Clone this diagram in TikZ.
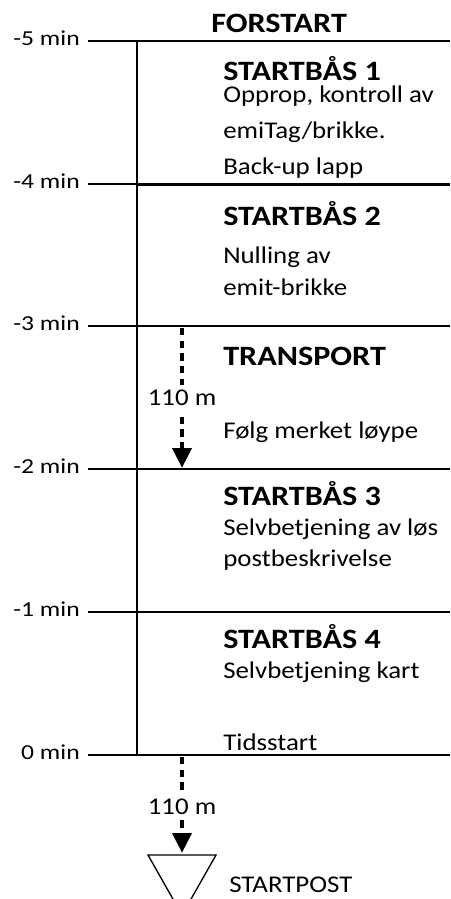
\documentclass[tikz,border=0pt]{standalone}
\usepackage{fontspec}
\setmainfont{Carlito}
\newfontfamily\bodyfont[FakeStretch=1.12]{Carlito}
\newfontfamily\titlefont[FakeStretch=1.15]{Carlito}
\newfontfamily\minfont[FakeStretch=1.2]{Carlito}
\usetikzlibrary{arrows.meta}

\begin{document}
\begin{tikzpicture}[x=0.75pt, y=-0.75pt,
  title/.style = {anchor=base west, inner sep=0pt, font=\titlefont\fontsize{21}{25}\selectfont\bfseries},
  body/.style = {anchor=base west, inner sep=0pt, font=\bodyfont\fontsize{18}{22}\selectfont},
  minlabel/.style = {anchor=base east, inner sep=0pt, font=\minfont\fontsize{16}{19}\selectfont},
  tline/.style = {line width=1.5pt},
  tick/.style = {line width=1pt},
  walk/.style = {line width=3.5pt, dash pattern=on 5.5pt off 4pt, -{Triangle[width=14pt,length=15pt]}},
  dist/.style = {fill=white, inner xsep=1.5pt, inner ysep=4pt, font=\bodyfont\fontsize{18}{22}\selectfont}]

\clip (0,0) rectangle (450,899);

%% time marks
\node[minlabel] (m5) at (80,45.5) {-5 min};
\node[minlabel] (m4) at (80,188.5) {-4 min};
\node[minlabel] (m3) at (80,330.5) {-3 min};
\node[minlabel] (m2) at (80,473.5) {-2 min};
\node[minlabel] (m1) at (80,616.5) {-1 min};
\node[minlabel] (m0) at (80,759.5) {0 min};

\coordinate (t5) at (88,41);  \coordinate (a5) at (137,41);  \coordinate (e5) at (450,41);
\coordinate (t4) at (88,184); \coordinate (a4) at (137,184); \coordinate (e4) at (450,184);
\coordinate (t3) at (88,326); \coordinate (a3) at (137,326); \coordinate (e3) at (450,326);
\coordinate (t2) at (88,469); \coordinate (a2) at (137,469); \coordinate (e2) at (450,469);
\coordinate (t1) at (88,612); \coordinate (a1) at (137,612); \coordinate (e1) at (450,612);
\coordinate (t0) at (88,755); \coordinate (a0) at (137,755); \coordinate (e0) at (450,755);

%% stations
\node[title] (forstart) at (211,33) {FORSTART};

\node[title] (bas1) at (223,80) {STARTBÅS 1};
\node[body] (bas1a) at (223,103) {Opprop, kontroll av};
\node[body] (bas1b) at (223,138) {emiTag/brikke.};
\node[body] (bas1c) at (223,174) {Back-up lapp};

\node[title] (bas2) at (223,225) {STARTBÅS 2};
\node[body] (bas2a) at (223,263) {Nulling av};
\node[body] (bas2b) at (223,295) {emit-brikke};

\node[title] (transport) at (223,365) {TRANSPORT};
\node[body] (transporta) at (223,438) {Følg merket løype};

\node[title] (bas3) at (223,505) {STARTBÅS 3};
\node[body] (bas3a) at (223,535) {Selvbetjening av løs};
\node[body] (bas3b) at (223,566) {postbeskrivelse};

\node[title] (bas4) at (223,648) {STARTBÅS 4};
\node[body] (bas4a) at (223,678) {Selvbetjening kart};
\node[body] (bas4b) at (223,750) {Tidsstart};

\node[body] (startpost) at (229,892) {STARTPOST};

%%% lines
\draw[tline] (a5) -- (a0);
\draw[tline] (a5) -- (e5);
\draw[line width=2.25pt] (a4) -- (e4);
\draw[tline] (a3) -- (e3);
\draw[tline] (a2) -- (e2);
\draw[tline] (a1) -- (e1);
\draw[tline] (a0) -- (e0);

\draw[tick] (t5) -- (a5);
\draw[tick] (t4) -- (a4);
\draw[tick] (t3) -- (a3);
\draw[tick] (t2) -- (a2);
\draw[tick] (t1) -- (a1);
\draw[tick] (t0) -- (a0);

%%% walking legs
\coordinate (w1) at (182,328);
\coordinate (w1end) at (182,468);
\coordinate (w2) at (182,757);
\coordinate (w2end) at (182,853);

\draw[walk] (w1) -- node[dist, pos=0.5] (d1) {110 m} (w1end);
\draw[walk] (w2) -- node[dist, pos=0.52] (d2) {110 m} (w2end);

%% start control
\coordinate (p1) at (148,855);
\coordinate (p2) at (216,855);
\coordinate (p3) at (182,915);
\draw[line width=1pt] (p1) -- (p2) -- (p3) -- cycle;

\end{tikzpicture}
\end{document}
